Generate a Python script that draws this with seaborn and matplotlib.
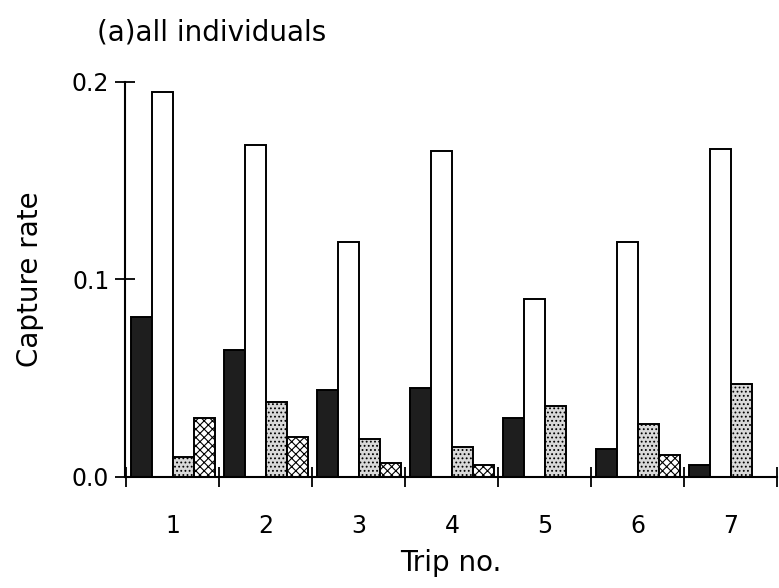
import matplotlib
matplotlib.use("Agg")
import matplotlib.pyplot as plt
import seaborn as sns
import pandas as pd

trips = ["1", "2", "3", "4", "5", "6", "7"]
series = ["black", "open", "dotted", "patterned"]
black_vals = [0.081, 0.064, 0.044, 0.045, 0.030, 0.014, 0.006]
open_vals = [0.195, 0.168, 0.119, 0.165, 0.090, 0.119, 0.166]
dotted_vals = [0.010, 0.038, 0.019, 0.015, 0.036, 0.027, 0.047]
patterned_vals = [0.030, 0.020, 0.007, 0.006, 0.0, 0.011, 0.0]
yticks = [0.0, 0.1, 0.2]
ytick_labels = ["0.0", "0.1", "0.2"]

rows = []
for name, vals in zip(series, [black_vals, open_vals, dotted_vals, patterned_vals]):
    for t, v in zip(trips, vals):
        rows.append({"trip": t, "rate": v, "series": name})
df = pd.DataFrame(rows)

sns.set_theme(style="white")
plt.rcParams["font.family"] = ["DejaVu Sans"]
plt.rcParams["hatch.linewidth"] = 0.8
plt.rcParams["text.color"] = "black"
plt.rcParams["axes.labelcolor"] = "black"
plt.rcParams["xtick.color"] = "black"
plt.rcParams["ytick.color"] = "black"

fig = plt.figure(figsize=(7.79, 5.88), dpi=100)
ax = fig.add_axes([0.160, 0.189, 0.838, 0.672])

sns.barplot(data=df, x="trip", y="rate", hue="series", hue_order=series,
            order=trips, width=0.9, legend=False, ax=ax, errorbar=None)

styles = [
    dict(facecolor="#1e1e1e", hatch=None),
    dict(facecolor="white", hatch=None),
    dict(facecolor="#d9d9d9", hatch="...."),
    dict(facecolor="white", hatch="xxxx"),
]
for cont, st in zip(ax.containers, styles):
    for bar in cont:
        bar.set_facecolor(st["facecolor"])
        bar.set_edgecolor("black")
        bar.set_linewidth(1.4)
        if st["hatch"]:
            bar.set_hatch(st["hatch"])

ax.set_ylim(0, 0.2)
ax.set_xlim(-0.52, 6.5)
ax.set_yticks(yticks)
ax.set_yticklabels(ytick_labels, fontsize=17)
ax.set_xticks(range(len(trips)))
ax.set_xticklabels(trips, fontsize=17)
ax.set_xticks([i - 0.5 for i in range(len(trips) + 1)], minor=True)
ax.tick_params(axis="both", which="both", bottom=True, left=True)
ax.tick_params(axis="x", which="major", length=0, pad=27)
ax.tick_params(axis="x", which="minor", length=14, width=1.3, direction="inout", color="black")
ax.tick_params(axis="y", which="major", length=14, width=1.3, direction="inout", color="black", pad=4)

for s in ["top", "right"]:
    ax.spines[s].set_visible(False)
for s in ["left", "bottom"]:
    ax.spines[s].set_color("black")
    ax.spines[s].set_linewidth(1.5)

ax.set_xlabel("Trip no.", fontsize=20, labelpad=8)
ax.set_ylabel("Capture rate", fontsize=20, labelpad=20)
fig.text(0.125, 0.945, "(a)all individuals", fontsize=20,
         ha="left", va="center")

fig.savefig("out.png", dpi=100)
